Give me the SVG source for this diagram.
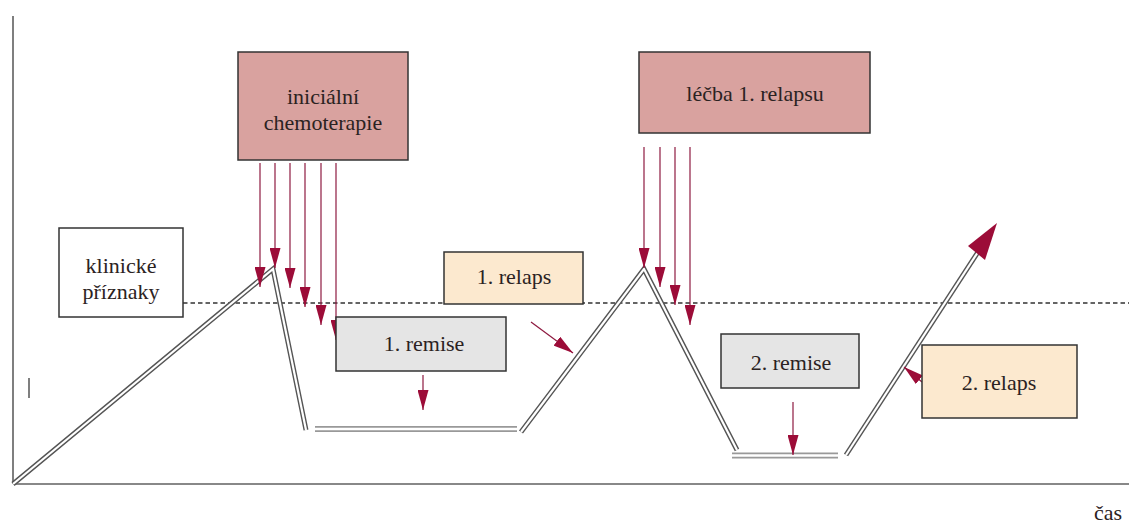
<svg xmlns="http://www.w3.org/2000/svg" width="1129" height="524" viewBox="0 0 1129 524">
  <style>
    .box { stroke: #333; stroke-width: 1.5; }
    .chemo { fill: #d9a29f; }
    .relaps { fill: #fce9cf; }
    .remise { fill: #e5e5e5; }
    .plain { fill: #ffffff; }
    .lbl { font-family: "Liberation Serif", "Times New Roman", serif; font-size: 22px; fill: #2b2222; text-anchor: middle; }
    .arr { stroke: #8e1a40; stroke-width: 1.2; fill: none; marker-end: url(#ah); }
    .dbl-out { fill: none; stroke: #555; stroke-width: 5; stroke-linejoin: miter; }
    .dbl-in { fill: none; stroke: #fff; stroke-width: 2.2; stroke-linejoin: miter; }
    .hout { fill: none; stroke: #999; stroke-width: 6; }
    .hin { fill: none; stroke: #fff; stroke-width: 2.6; }
  </style>
  <defs>
    <marker id="ah" markerUnits="userSpaceOnUse" markerWidth="20" markerHeight="11" refX="20" refY="5.5" orient="auto">
      <path d="M0,0 L20,5.5 L0,11 Z" fill="#9c0c38"/>
    </marker>
  </defs>
  <rect width="1129" height="524" fill="#ffffff"/>

  <!-- axes -->
  <g id="axes">
    <line x1="13" y1="16" x2="13" y2="484" stroke="#555" stroke-width="1.5"/>
    <line x1="13" y1="484" x2="1129" y2="484" stroke="#888" stroke-width="2"/>
    <line x1="29" y1="378" x2="29" y2="398" stroke="#555" stroke-width="1.5"/>
    <line x1="183" y1="303" x2="1129" y2="303" stroke="#333" stroke-width="1.3" stroke-dasharray="4.5 3"/>
    <text x="1108" y="520" class="lbl" font-size="20">čas</text>
  </g>

  <!-- connectors -->
  <g id="connectors">
    <!-- disease course double line -->
    <path class="dbl-out" d="M13,484 L273,269 L306,430"/>
    <path class="dbl-in" d="M13,484 L273,269 L306,430"/>
    <path class="hout" d="M315,429 L517,429"/>
    <path class="hin" d="M315,429 L517,429"/>
    <path class="dbl-out" d="M521,432 L644,269 L737,450"/>
    <path class="dbl-in" d="M521,432 L644,269 L737,450"/>
    <path class="hout" d="M732,455.5 L838,455.5"/>
    <path class="hin" d="M732,455.5 L838,455.5"/>
    <path class="dbl-out" d="M846,455 L978,252"/>
    <path class="dbl-in" d="M846,455 L978,252"/>
    <polygon points="997,223 968,246 985,260" fill="#9c0c38"/>

    <!-- initial chemotherapy arrows -->
    <line class="arr" x1="260" y1="163" x2="260" y2="287"/>
    <line class="arr" x1="275" y1="163" x2="275" y2="268"/>
    <line class="arr" x1="290" y1="163" x2="290" y2="288"/>
    <line class="arr" x1="305" y1="163" x2="305" y2="307"/>
    <line class="arr" x1="321" y1="163" x2="321" y2="325"/>
    <line class="arr" x1="336" y1="163" x2="336" y2="340"/>

    <!-- relapse treatment arrows -->
    <line class="arr" x1="644" y1="147" x2="644" y2="268"/>
    <line class="arr" x1="660" y1="147" x2="660" y2="287"/>
    <line class="arr" x1="675" y1="147" x2="675" y2="305"/>
    <line class="arr" x1="690" y1="147" x2="690" y2="325"/>

    <!-- label pointers -->
    <line class="arr" x1="531" y1="322" x2="573" y2="353"/>
    <line class="arr" x1="423" y1="375" x2="423" y2="410"/>
    <line class="arr" x1="793" y1="402" x2="793" y2="455"/>
    <line class="arr" x1="922" y1="382" x2="904" y2="367"/>
  </g>

  <!-- nodes -->
  <g id="klinicke-priznaky">
    <rect class="box plain" x="59" y="228" width="124" height="89"/>
    <text class="lbl" x="121" y="273">klinické</text>
    <text class="lbl" x="121" y="299">příznaky</text>
  </g>
  <g id="inicialni-chemoterapie">
    <rect class="box chemo" x="238" y="52" width="170" height="108"/>
    <text class="lbl" x="323" y="104">iniciální</text>
    <text class="lbl" x="323" y="130">chemoterapie</text>
  </g>
  <g id="lecba-1-relapsu">
    <rect class="box chemo" x="639" y="52" width="231" height="81"/>
    <text class="lbl" x="755" y="101">léčba 1. relapsu</text>
  </g>
  <g id="relaps-1">
    <rect class="box relaps" x="444" y="252" width="139" height="52"/>
    <text class="lbl" x="514" y="284">1. relaps</text>
  </g>
  <g id="remise-1">
    <rect class="box remise" x="336" y="317" width="170" height="54"/>
    <text class="lbl" x="424" y="351">1. remise</text>
  </g>
  <g id="remise-2">
    <rect class="box remise" x="721" y="334" width="138" height="54"/>
    <text class="lbl" x="791" y="370">2. remise</text>
  </g>
  <g id="relaps-2">
    <rect class="box relaps" x="922" y="345" width="155" height="73"/>
    <text class="lbl" x="999" y="390">2. relaps</text>
  </g>
</svg>
